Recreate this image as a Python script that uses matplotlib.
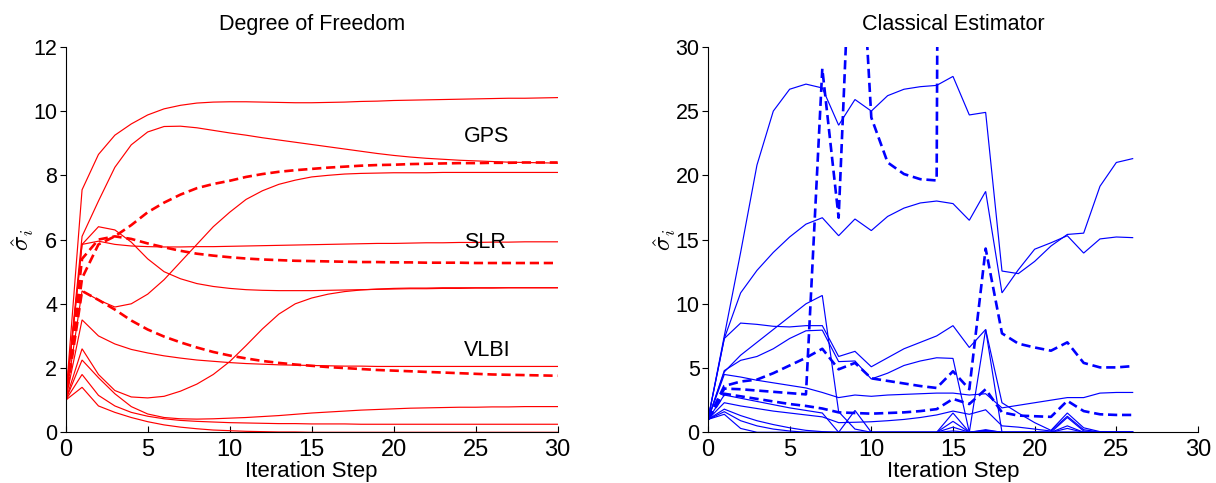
import numpy as np
import matplotlib
matplotlib.use("Agg")
import matplotlib.pyplot as plt
from matplotlib import font_manager

plt.rcParams['font.family'] = ['Liberation Sans', 'DejaVu Sans']
plt.rcParams['mathtext.fontset'] = 'cm'

# ---------------- Left panel: Degree of Freedom (steps 0..30) ----------------
steps_left = list(range(31))
dof_solid = [
    [1, 7.55, 8.65, 9.25, 9.6, 9.88, 10.07, 10.18, 10.25, 10.28, 10.29, 10.29, 10.28, 10.27, 10.26, 10.26,
     10.27, 10.28, 10.3, 10.31, 10.33, 10.34, 10.35, 10.36, 10.37, 10.38, 10.39, 10.4, 10.4, 10.41, 10.42],
    [1, 6.1, 7.2, 8.25, 8.95, 9.35, 9.52, 9.53, 9.48, 9.4, 9.32, 9.25, 9.17, 9.1, 9.03, 8.96,
     8.89, 8.82, 8.75, 8.68, 8.62, 8.57, 8.53, 8.5, 8.47, 8.45, 8.43, 8.41, 8.4, 8.39, 8.38],
    [1, 4.4, 4.12, 3.9, 4.0, 4.3, 4.75, 5.3, 5.85, 6.4, 6.85, 7.25, 7.52, 7.72, 7.85, 7.95,
     8.0, 8.04, 8.06, 8.07, 8.08, 8.08, 8.08, 8.09, 8.09, 8.09, 8.09, 8.09, 8.09, 8.09, 8.09],
    [1, 5.85, 6.4, 6.3, 5.92, 5.4, 5.0, 4.78, 4.63, 4.54, 4.48, 4.44, 4.42, 4.41, 4.41, 4.41,
     4.42, 4.43, 4.44, 4.45, 4.46, 4.47, 4.47, 4.48, 4.48, 4.49, 4.49, 4.5, 4.5, 4.5, 4.5],
    [1, 5.85, 5.95, 5.85, 5.8, 5.78, 5.77, 5.77, 5.78, 5.78, 5.79, 5.8, 5.81, 5.82, 5.83, 5.84,
     5.85, 5.86, 5.87, 5.88, 5.88, 5.89, 5.9, 5.9, 5.91, 5.91, 5.92, 5.92, 5.93, 5.93, 5.93],
    [1, 3.5, 3.0, 2.75, 2.58, 2.47, 2.38, 2.31, 2.25, 2.21, 2.17, 2.14, 2.12, 2.1, 2.09, 2.08,
     2.07, 2.06, 2.06, 2.05, 2.05, 2.05, 2.05, 2.05, 2.05, 2.05, 2.05, 2.05, 2.05, 2.05, 2.05],
    [1, 2.6, 1.8, 1.3, 1.1, 1.07, 1.12, 1.28, 1.5, 1.8, 2.2, 2.7, 3.22, 3.68, 4.0, 4.18,
     4.3, 4.38, 4.43, 4.46, 4.48, 4.49, 4.49, 4.5, 4.5, 4.5, 4.5, 4.5, 4.5, 4.5, 4.5],
    [1, 2.25, 1.7, 1.2, 0.8, 0.57, 0.46, 0.42, 0.41, 0.42, 0.44, 0.46, 0.49, 0.52, 0.56, 0.6,
     0.63, 0.66, 0.69, 0.71, 0.73, 0.75, 0.76, 0.77, 0.78, 0.78, 0.79, 0.79, 0.8, 0.8, 0.8],
    [1, 1.8, 1.15, 0.82, 0.62, 0.5, 0.42, 0.37, 0.34, 0.32, 0.3, 0.29, 0.28, 0.27, 0.27, 0.26,
     0.26, 0.26, 0.25, 0.25, 0.25, 0.25, 0.25, 0.25, 0.25, 0.25, 0.25, 0.25, 0.25, 0.25, 0.25],
    [1, 1.4, 0.82, 0.62, 0.46, 0.33, 0.23, 0.16, 0.11, 0.07, 0.05, 0.03, 0.02, 0.01, 0.01, 0.0,
     0, 0, 0, 0, 0, 0, 0, 0, 0, 0, 0, 0, 0, 0, 0],
]
dof_dashed = [
    [1, 4.8, 5.85, 6.1, 6.45, 6.85, 7.15, 7.4, 7.6, 7.73, 7.83, 7.95, 8.04, 8.11, 8.16, 8.2,
     8.24, 8.27, 8.3, 8.32, 8.33, 8.35, 8.36, 8.37, 8.38, 8.38, 8.39, 8.39, 8.4, 8.4, 8.4],
    [1, 5.4, 6.0, 6.1, 6.02, 5.88, 5.76, 5.65, 5.56, 5.5, 5.45, 5.41, 5.38, 5.36, 5.34, 5.33,
     5.32, 5.31, 5.3, 5.3, 5.29, 5.29, 5.28, 5.28, 5.28, 5.27, 5.27, 5.27, 5.27, 5.27, 5.27],
    [1, 4.4, 4.12, 3.82, 3.48, 3.2, 2.98, 2.8, 2.64, 2.5, 2.39, 2.3, 2.22, 2.16, 2.11, 2.07,
     2.03, 2.0, 1.97, 1.94, 1.92, 1.9, 1.88, 1.86, 1.84, 1.82, 1.8, 1.79, 1.78, 1.77, 1.76],
]
group_labels = ["GPS", "SLR", "VLBI"]
group_label_y = [9.2, 5.9, 2.55]
group_label_x = 24.3

# ---------------- Right panel: Classical Estimator (steps 0..26) ----------------
steps_right = list(range(27))
ce_solid = [
    [1, 7.5, 14.0, 20.8, 25.0, 26.7, 27.1, 26.8, 23.9, 25.9, 25.0, 26.2, 26.7, 26.9, 27.0, 27.7,
     24.7, 24.9, 12.55, 12.35, 13.3, 14.5, 15.4, 15.5, 19.15, 21.0, 21.3],
    [1, 7.3, 10.85, 12.6, 14.0, 15.2, 16.2, 16.7, 15.3, 16.6, 15.7, 16.8, 17.45, 17.85, 18.0, 17.8,
     16.5, 18.75, 10.85, 12.65, 14.25, 14.75, 15.3, 13.95, 15.05, 15.2, 15.15],
    [1, 7.3, 8.5, 8.4, 8.25, 8.2, 8.3, 8.3, 5.9, 6.3, 5.1, 5.8, 6.5, 7.0, 7.5, 8.3,
     6.6, 8.0, 2.3, 1.5, 0.75, 0.15, 1.5, 0.35, 0.05, 0.0, 0.0],
    [1, 4.8, 5.6, 5.9, 6.5, 7.3, 7.9, 7.95, 5.5, 5.55, 4.15, 4.6, 5.2, 5.55, 5.8, 5.75,
     0.0, 8.0, 0.0, 0.0, 0.0, 0.0, 0.0, 0.0, 0.0, 0.0, 0.0],
    [1, 4.7, 6.0, 7.0, 8.0, 9.0, 10.0, 10.65, 1.6, 0.25, 0.0, 0.0, 0.0, 0.0, 0.0, 0.1,
     0.0, 0.15, 0.0, 0.0, 0.0, 0.0, 0.0, 0.0, 0.0, 0.0, 0.0],
    [1, 4.5, 4.3, 4.05, 3.85, 3.65, 3.45, 3.1, 2.7, 2.9, 2.8, 2.9, 2.95, 3.0, 3.05, 3.05,
     2.9, 3.0, 1.9, 2.1, 2.3, 2.5, 2.7, 2.7, 3.05, 3.1, 3.1],
    [1, 2.9, 2.65, 2.4, 2.15, 1.9, 1.7, 1.5, 0.0, 1.7, 0.0, 0.0, 0.0, 0.0, 0.0, 0.0,
     0.0, 0.1, 0.0, 0.0, 0.0, 0.0, 0.0, 0.0, 0.0, 0.0, 0.0],
    [1, 2.3, 2.05, 1.85, 1.65, 1.5, 1.35, 1.2, 0.75, 0.78, 0.82, 0.9, 1.0, 1.15, 1.35, 1.65,
     1.4, 1.75, 0.5, 0.4, 0.25, 0.1, 1.25, 0.2, 0.02, 0.02, 0.02],
    [1, 1.8, 1.3, 0.9, 0.6, 0.35, 0.15, 0.05, 0.0, 0.0, 0.0, 0.0, 0.0, 0.0, 0.0, 1.5,
     0.0, 0.2, 0.0, 0.0, 0.0, 0.0, 0.5, 0.0, 0.0, 0.0, 0.0],
    [1, 1.4, 0.3, 0.0, 0.0, 0.0, 0.0, 0.0, 0.0, 0.0, 0.0, 0.0, 0.0, 0.0, 0.0, 0.85,
     0.0, 0.05, 0.0, 0.0, 0.0, 0.0, 1.15, 0.1, 0.0, 0.0, 0.0],
    [1, 1.6, 0.9, 0.5, 0.25, 0.1, 0.0, 0.0, 0.0, 0.0, 0.0, 0.0, 0.0, 0.0, 0.0, 0.4,
     0.0, 0.1, 0.0, 0.0, 0.0, 0.0, 0.3, 0.0, 0.0, 0.0, 0.0],
]
ce_dashed = [
    [1, 3.4, 3.35, 3.25, 3.15, 3.05, 2.95, 28.3, 16.7, 47.0, 24.5, 21.0, 20.1, 19.7, 19.6, 300.0,
     np.nan, np.nan, np.nan, np.nan, np.nan, np.nan, np.nan, np.nan, np.nan, np.nan, np.nan],
    [1, 3.6, 3.95, 4.1, 4.6, 5.2, 5.8, 6.5, 4.9, 5.4, 4.2, 4.0, 3.8, 3.6, 3.45, 4.75,
     3.35, 14.3, 7.7, 6.9, 6.6, 6.35, 7.0, 5.4, 5.05, 5.05, 5.15],
    [1, 3.0, 2.8, 2.6, 2.4, 2.2, 2.05, 1.85, 1.55, 1.5, 1.45, 1.5, 1.55, 1.65, 1.8, 2.6,
     2.2, 3.35, 1.55, 1.3, 1.25, 1.2, 2.45, 1.65, 1.4, 1.35, 1.35],
]

# ---------------- Fonts ----------------
FS = 15
available = {f.name for f in font_manager.fontManager.ttflist}
if 'Liberation Sans Narrow' in available:
    xtick_family = ['Liberation Sans Narrow', 'DejaVu Sans']
    xtick_size = 20
else:
    xtick_family = ['Liberation Sans', 'DejaVu Sans']
    xtick_size = 17

# ---------------- Drawing ----------------
fig = plt.figure(figsize=(12.16, 4.83), dpi=100)
axL = fig.add_axes([0.0540, 0.105, 0.4046, 0.798])
axR = fig.add_axes([0.5822, 0.105, 0.4030, 0.798])

solid_kw = dict(lw=0.85, solid_joinstyle='miter')
dash_kw = dict(lw=1.9, linestyle=(0, (3.5, 1.8)))

for ys in dof_solid:
    axL.plot(steps_left, ys, color='#ff0000', **solid_kw)
for ys in dof_dashed:
    axL.plot(steps_left, ys, color='#ff0000', **dash_kw)
for lab, yy in zip(group_labels, group_label_y):
    axL.text(group_label_x, yy, lab, fontsize=FS + 0.5, va='center', ha='left')

for ys in ce_solid:
    axR.plot(steps_right, ys, color='#0000ff', **solid_kw)
for ys in ce_dashed:
    axR.plot(steps_right, ys, color='#0000ff', **dash_kw)

axL.set_xlim(0, 30)
axL.set_ylim(0, 12)
axL.set_yticks(range(0, 13, 2))
axR.set_xlim(0, 30)
axR.set_ylim(0, 30)
axR.set_yticks(range(0, 31, 5))

titles = ["Degree of Freedom", "Classical Estimator"]
for ax, t in zip([axL, axR], titles):
    ax.set_xticks(range(0, 31, 5))
    ax.spines['top'].set_visible(False)
    ax.spines['right'].set_visible(False)
    ax.spines['left'].set_linewidth(0.8)
    ax.spines['bottom'].set_linewidth(0.8)
    ax.tick_params(axis='y', direction='out', length=4, width=0.8, labelsize=FS + 0.5, pad=2)
    ax.tick_params(axis='x', direction='in', length=4, width=0.8, labelsize=xtick_size, pad=5)
    for lbl in ax.get_xticklabels():
        lbl.set_family(xtick_family)
    ax.set_title(t, fontsize=FS + 0.5, pad=12)
    ax.set_xlabel("Iteration Step", fontsize=FS + 1, labelpad=0)
    ax.set_ylabel(r"$\hat{\sigma}_i$", fontsize=FS + 3, labelpad=-2)

fig.savefig("out.png", dpi=100)
